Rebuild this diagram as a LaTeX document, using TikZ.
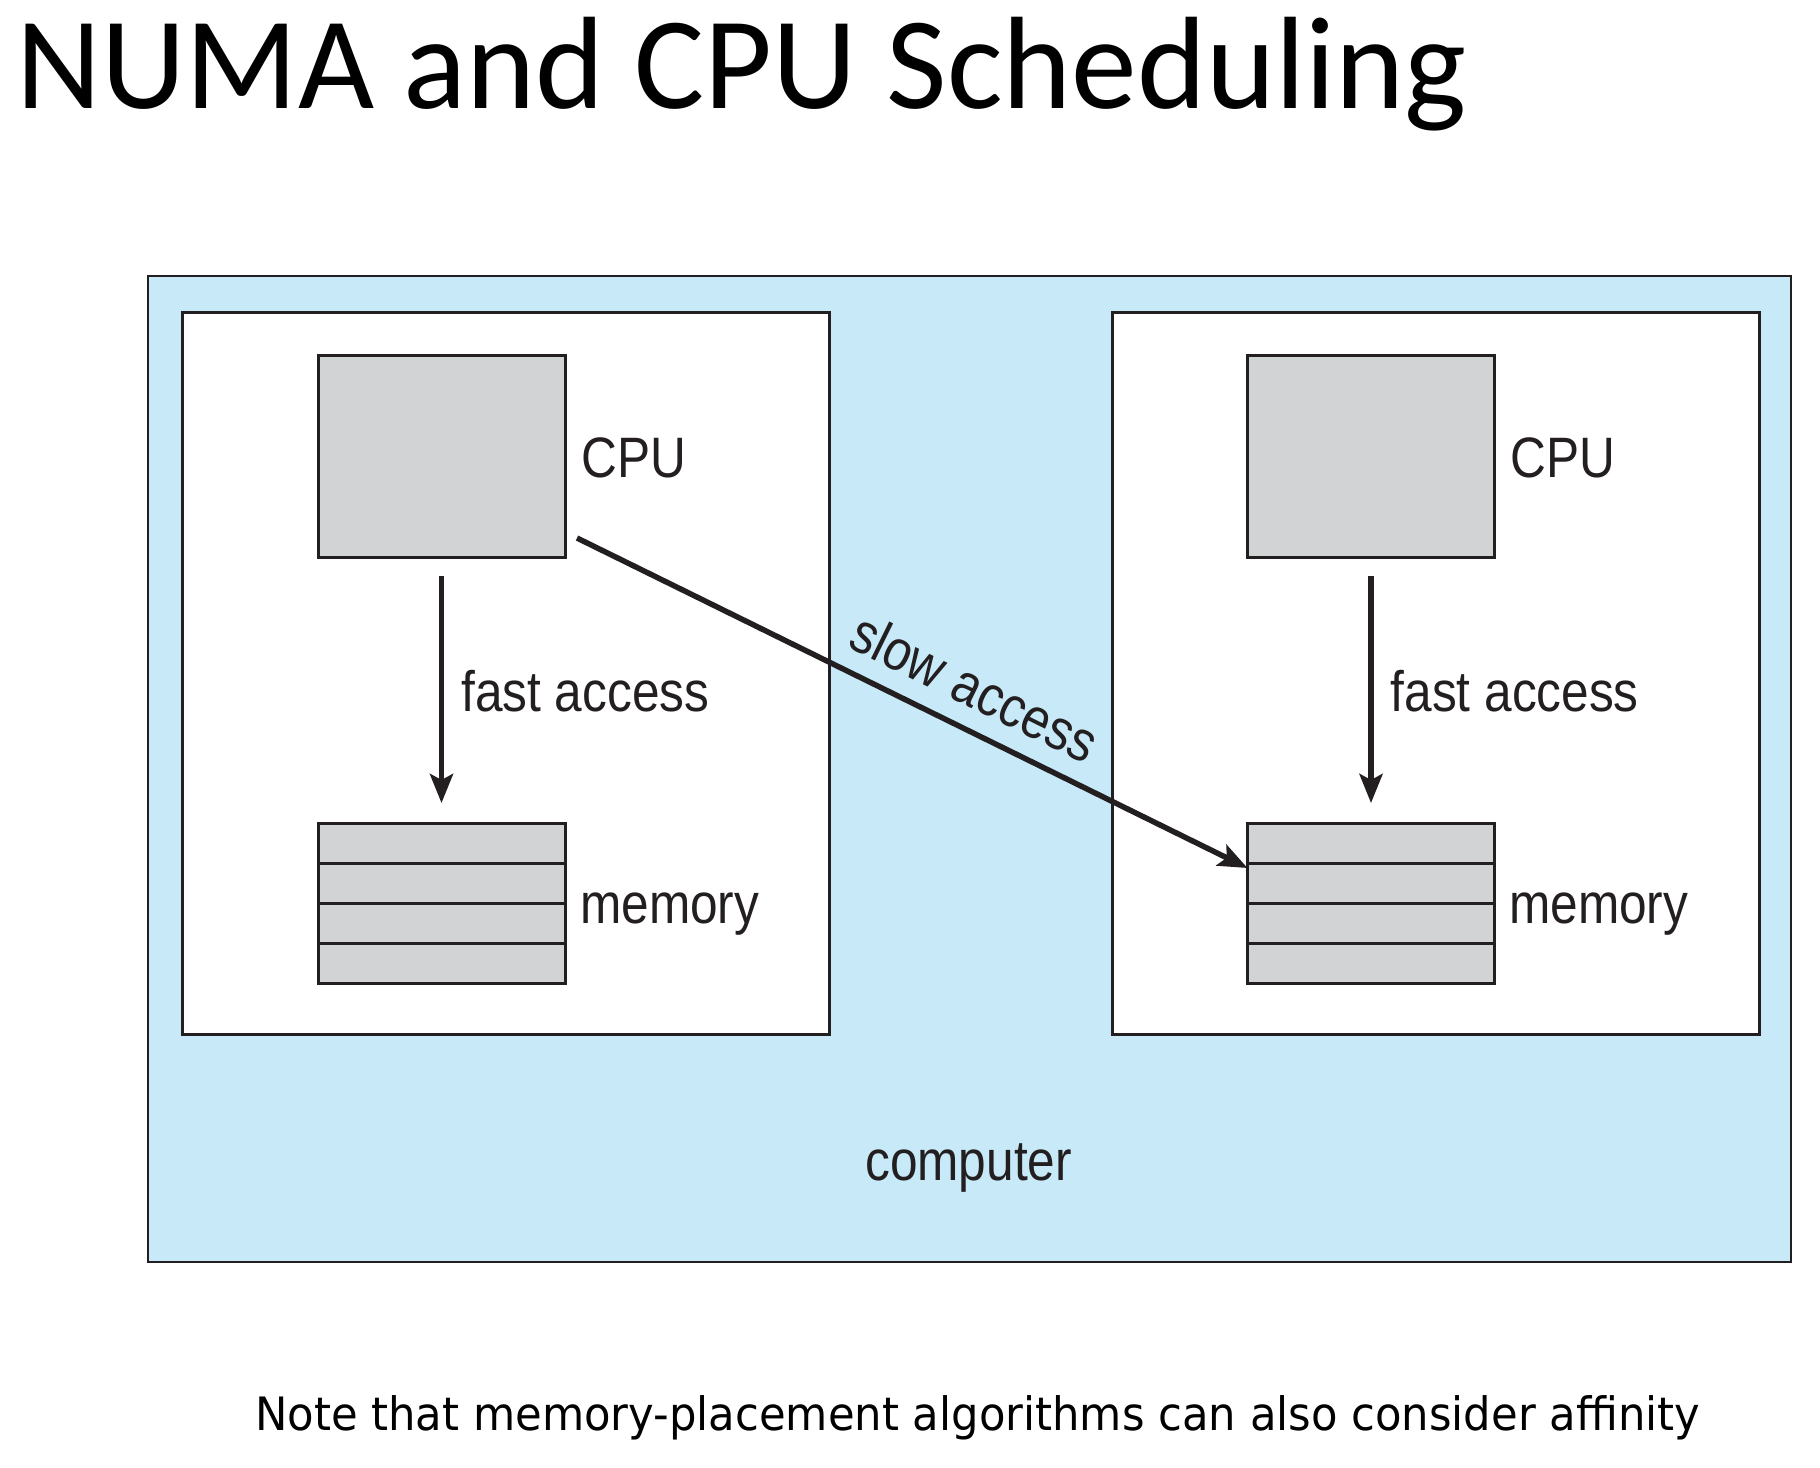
\documentclass[tikz,border=0pt]{standalone}
\usepackage{fontspec}
\usetikzlibrary{arrows.meta}
\newfontfamily\diagfont{Liberation Sans}[FakeStretch=0.87]
\newfontfamily\titlefont{Carlito}
\newfontfamily\notefont{DejaVu Sans}[FakeStretch=0.942]
\definecolor{compblue}{RGB}{199,233,248}
\definecolor{boxgray}{RGB}{209,211,212}
\definecolor{ink}{RGB}{35,31,32}
\begin{document}
\begin{tikzpicture}[x=1pt,y=-1pt,
  lbl/.style={font=\diagfont\fontsize{57}{60}\selectfont, text=ink, inner sep=0pt, anchor=base west},
  compbox/.style={draw=ink, line width=2pt, fill=compblue, outer sep=0pt, inner sep=0pt, minimum width=1643pt, minimum height=986pt},
  unitbox/.style={draw=ink, line width=3pt, fill=white, outer sep=0pt, inner sep=0pt, minimum width=647pt, minimum height=722pt},
  cpubox/.style={draw=ink, line width=3pt, fill=boxgray, outer sep=0pt, inner sep=0pt, minimum width=247pt, minimum height=202pt},
  membox/.style={draw=ink, line width=3pt, fill=boxgray, outer sep=0pt, inner sep=0pt, minimum width=247pt, minimum height=160pt},
  rowline/.style={draw=ink, line width=3pt},
  conn/.style={draw=ink, line width=5.5pt, -{Stealth[length=29pt,width=23pt,inset=6pt]}}
]
\useasboundingbox (0,0) rectangle (1820,1467);
\fill[white] (0,0) rectangle (1820,1467);

\node[font=\titlefont\fontsize{131.5}{140}\selectfont, inner sep=0pt, anchor=base west] (title) at (16,108) {NUMA and CPU Scheduling};

\node[compbox] (comp) at (969.5,769) {};
\node[unitbox] (unitL) at (505.5,673) {};
\node[unitbox] (unitR) at (1435.5,673) {};

\node[cpubox] (cpuL) at (441.5,456) {};
\node[membox] (memL) at (441.5,903) {};
\node[cpubox] (cpuR) at (1371,456) {};
\node[membox] (memR) at (1371,903) {};

\foreach \m in {memL,memR}{
  \draw[rowline] ([yshift=40pt]\m.west) -- ([yshift=40pt]\m.east);
  \draw[rowline] (\m.west) -- (\m.east);
  \draw[rowline] ([yshift=-40pt]\m.west) -- ([yshift=-40pt]\m.east);
}

\node[lbl] (cpuLlbl) at (581,477) {CPU};
\node[lbl] (memLlbl) at (580,923) {memory};
\node[lbl] (cpuRlbl) at (1510,477) {CPU};
\node[lbl] (memRlbl) at (1509,923) {memory};
\node[lbl] (compLbl) at (865,1180) {computer};

\draw[conn, shorten <=19pt, shorten >=20pt] (cpuL.south) -- node[lbl, anchor=base west, xshift=17pt, yshift=-21pt] (fastL) {fast access} (memL.north);
\draw[conn, shorten <=19pt, shorten >=20pt] (cpuR.south) -- node[lbl, anchor=base west, xshift=17pt, yshift=-21pt] (fastR) {fast access} (memR.north);

\draw[conn] ([shift={(12,-19)}]cpuL.south east) -- node[pos=0.566, sloped, font=\diagfont\fontsize{57}{60}\selectfont, text=ink, inner sep=0pt, anchor=south, yshift=18pt] (slowLbl) {slow access} ([yshift=35pt]memR.west);

\node[font=\notefont\fontsize{46}{50}\selectfont, inner sep=0pt, anchor=base west] (note) at (255,1430) {Note that memory-placement algorithms can also consider affinity};
\end{tikzpicture}
\end{document}
